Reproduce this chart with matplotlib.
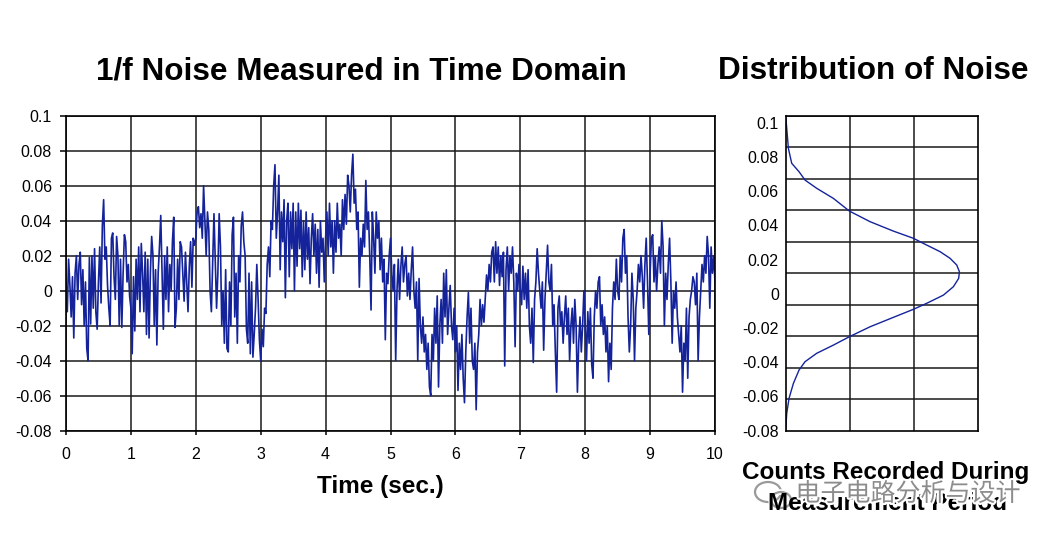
import numpy as np
import matplotlib
matplotlib.use("Agg")
import matplotlib.pyplot as plt
from matplotlib import patheffects
from matplotlib.patches import Ellipse

plt.rcParams['font.family'] = ['Liberation Sans', 'DejaVu Sans']

# noise samples, in thousandths of a unit, 50 samples per second
sample_rate = 50
noise_milli = [
    # 0 s
    5, -12, 18, 3, -15, 8, -27, 10, 20, -5, 15, 22, -8, 12, -20, 5, -33, -40, 19, -19, 20, -10, 24, -12, -22,
    5, 25, -7, 37, 52, 18, 25, 3, -10, -20, 30, 33, 8, -5, 31, 20, -20, 18, -21, 10, 32, 28, 5, 15, -3,
    # 1 s
    -10, -36, 8, -23, 18, -5, 25, -12, 27, 10, -12, 22, -25, 18, -27, 10, 31, 20, -20, 12, -31, 10, 25, 43, 10,
    -22, 20, -5, 25, -12, 15, 0, 28, 42, -21, -10, 18, -5, 28, 25, 10, -6, 22, 5, -12, 14, 28, 2, 30, 26,
    # 2 s
    30, 45, 48, 36, 44, 30, 60, 40, 20, 45, 35, 0, -12, 15, 44, 18, -10, 10, 44, 25, -20, 0, -30, 12, -33,
    -35, 5, -20, 32, 42, -15, 10, -30, 20, 5, 37, 45, 28, 20, -22, -30, 10, -36, 5, -38, -25, -10, 15, -5, -28,
    # 3 s
    -40, -22, -32, -10, -13, 15, 25, 8, 40, 35, 60, 72, 30, 45, 66, 12, 45, 28, 52, -4, 40, 50, 8, 45, 24,
    50, 0, 45, 14, 50, 24, 46, 8, 40, 12, 45, 18, 36, 4, 30, 44, 20, 38, 10, 35, 2, 40, 22, 30, 5,
    # 4 s
    30, 45, 20, 50, 25, 40, 10, 40, 22, 50, 30, 38, 20, 52, 35, 55, 38, 66, 60, 45, 66, 78, 50, 58, 35,
    45, 2, 30, 20, 38, 25, 63, 35, 45, 20, -11, 45, 30, 10, 45, 30, 40, 12, 30, 5, 18, -28, 10, 4, 20,
    # 5 s
    30, 10, 0, 15, -40, 0, 18, -5, 14, 25, 5, 15, 20, -3, 10, -5, 12, 25, 0, -10, 5, -40, 7, -20, -30,
    -15, -35, -25, -45, -30, -55, -60, -25, -40, -10, -30, -3, -55, -20, -5, -30, 10, -15, 12, -25, -10, 3, -20, -28, -10,
    # 6 s
    -35, -20, -57, -30, -45, -25, -50, -64, -35, -15, -1, -30, -10, -40, -45, -30, -68, -35, -25, -5, -20, -8, -18, -5, 9,
    0, 15, 5, 22, 25, 5, 28, 10, 25, 3, 20, 8, 22, -43, 12, 25, 0, 20, 10, 25, 5, -32, 10, 0, 15,
    # 7 s
    0, -8, 14, -5, 10, -10, 12, -20, -30, -10, -41, -5, 5, 24, 10, 0, -10, 5, -34, -5, 10, 26, 5, 0, 15,
    -20, -8, -35, -58, -10, -3, -20, -12, -30, -15, -3, -25, -10, -40, -20, -10, -30, -5, -20, -58, -30, -15, -35, -20, 0,
    # 8 s
    -20, -40, -12, -30, -10, -42, -50, -15, 0, -10, 5, 8, -20, -8, -25, -15, -35, -20, -52, -30, -45, -10, 5, -5, 18,
    0, -5, 20, 5, 30, 35, 10, 20, -15, -35, -20, 10, -5, -40, -10, 0, 15, 5, 20, 8, -10, 15, 30, 5, -25,
    # 9 s
    10, 30, 32, 5, 20, 0, 15, 25, 10, 40, 25, -20, 10, -5, 15, 30, 5, -30, 0, -10, 5, -15, -25, -35, -20,
    -58, -30, -40, -10, -50, -15, -5, 0, 8, 5, -8, 10, -40, -15, 0, 15, 5, 20, 10, 31, 20, -10, 25, 10, 20,
    5,
]

# distribution curve (counts, noise level)
dist_counts = [0, 0.042, 0.094, 0.208, 0.302, 0.484, 0.745, 0.995, 1.318, 1.682, 1.995, 2.151,
               2.411, 2.568, 2.672, 2.714, 2.703, 2.62, 2.464, 2.203, 1.995, 1.682, 1.318,
               0.995, 0.745, 0.484, 0.302, 0.208, 0.120, 0.052, 0.016, 0]
dist_level = [0.104, 0.0849, 0.0762, 0.0713, 0.0664, 0.0616, 0.0557, 0.0483, 0.0421, 0.0366,
              0.0324, 0.0294, 0.0246, 0.0207, 0.0168, 0.0129, 0.0090, 0.0041, -0.0008, -0.0056,
              -0.0091, -0.0138, -0.0193, -0.0251, -0.0300, -0.0348, -0.0397, -0.0446, -0.0524,
              -0.0611, -0.0699, -0.080]

y_ticks = [0.1, 0.08, 0.06, 0.04, 0.02, 0, -0.02, -0.04, -0.06, -0.08]
y_labels = ['0.1', '0.08', '0.06', '0.04', '0.02', '0', '-0.02', '-0.04', '-0.06', '-0.08']
x_ticks = list(range(0, 11))

LINE_COLOR = '#14239a'
GRID_COLOR = '#1a1a1a'

noise = np.array(noise_milli) / 1000.0
t = np.arange(len(noise)) / sample_rate

fig = plt.figure(figsize=(10.59, 5.43), dpi=100)
W, H = 1059, 543


def box(x0, x1, y_top, y_bot):
    return [x0 / W, 1 - y_bot / H, (x1 - x0) / W, (y_bot - y_top) / H]


# left: time domain trace
ax = fig.add_axes(box(66, 715, 115.7, 430.7))
ax.plot(t, noise, color=LINE_COLOR, lw=1.2)
ax.set_xlim(0, 10)
ax.set_ylim(-0.08, 0.1)
ax.set_xticks(x_ticks)
ax.set_yticks(y_ticks)
ax.set_yticklabels(y_labels)
ax.grid(True, color=GRID_COLOR, lw=1.1)
ax.set_axisbelow(True)
ax.tick_params(axis='y', length=4, width=1.1, pad=6, labelsize=11.5)
ax.tick_params(axis='x', length=3, width=1.1, pad=9, labelsize=11.5)
for s in ax.spines.values():
    s.set_linewidth(1.2)
    s.set_color('black')

# right: distribution of noise
axr = fig.add_axes(box(785.7, 977.7, 115.7, 430.7))
axr.plot(dist_counts, dist_level, color=LINE_COLOR, lw=1.0)
axr.set_xlim(0, 3)
axr.set_ylim(-0.08, 0.104)
axr.set_xticks([1, 2])
axr.set_xticklabels([])
axr.set_yticks(y_ticks)
axr.set_yticklabels(y_labels)
axr.set_yticks(np.linspace(-0.08, 0.104, 11), minor=True)
axr.grid(False)
axr.grid(True, which='minor', axis='y', color=GRID_COLOR, lw=1.1)
axr.grid(True, which='major', axis='x', color=GRID_COLOR, lw=1.1)
axr.tick_params(which='both', length=0)
axr.tick_params(axis='y', pad=5, labelsize=11.5)
for s in axr.spines.values():
    s.set_linewidth(1.2)
    s.set_color('black')

# titles and labels
fig.text(361 / W, 1 - 71 / H, '1/f Noise Measured in Time Domain', ha='center', va='center',
         fontsize=22.7, fontweight='bold')
fig.text(873 / W, 1 - 71 / H, 'Distribution of Noise', ha='center', va='center',
         fontsize=22.7, fontweight='bold')
fig.text(380 / W, 1 - 486 / H, 'Time (sec.)', ha='center', va='center',
         fontsize=17.5, fontweight='bold')
fig.text(886 / W, 1 - 472 / H, 'Counts Recorded During', ha='center', va='center',
         fontsize=17.5, fontweight='bold')
fig.text(888 / W, 1 - 503 / H, 'Measurement Period', ha='center', va='center',
         fontsize=17.5, fontweight='bold')

# watermark over the lower right label
wm = fig.text(908 / W, 1 - 494 / H, '电子电路分析与设计', ha='center', va='center',
              fontsize=18, color='#8c8c8c',
              family=['Noto Sans CJK SC', 'DejaVu Sans'])
wm.set_path_effects([patheffects.withStroke(linewidth=3, foreground='white')])
for cx, cy, ew, eh in [(768, 492, 26, 20), (781, 500, 20, 16)]:
    fig.patches.append(Ellipse((cx / W, 1 - cy / H), ew / W, eh / H, transform=fig.transFigure,
                               fill=False, edgecolor='#9a9a9a', lw=1.6,
                               path_effects=[patheffects.withStroke(linewidth=4, foreground='white')]))

fig.savefig('out.png', dpi=100)
